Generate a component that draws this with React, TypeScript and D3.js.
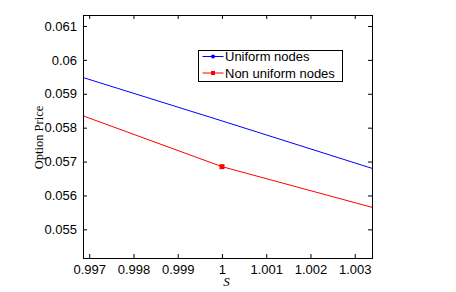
import React, { useRef, useEffect } from 'react';
import * as d3 from 'd3';

const sUniform = [0.99686, 1.0, 1.00339];
const priceUniform = [0.05948, 0.0582, 0.0568];
const sNonUniform = [0.99686, 1.0, 1.00339];
const priceNonUniform = [0.05835, 0.05685, 0.05565];
const markerS = [1.0];
const markerPrice = [0.05685];
const xTicks = [0.997, 0.998, 0.999, 1, 1.001, 1.002, 1.003];
const yTicks = [0.055, 0.056, 0.057, 0.058, 0.059, 0.06, 0.061];
const legendLabels = ['Uniform nodes', 'Non uniform nodes'];

const App = () => {
  const ref = useRef<SVGSVGElement | null>(null);
  const width = 456;
  const height = 292;
  const margin = { top: 15, right: 84, bottom: 34, left: 83 };

  useEffect(() => {
    if (!ref.current) return;
    const svg = d3.select(ref.current);
    svg.selectAll('*').remove();

    const x = d3
      .scaleLinear()
      .domain([0.99686, 1.00339])
      .range([margin.left, width - margin.right]);
    const y = d3
      .scaleLinear()
      .domain([0.054155, 0.061324])
      .range([height - margin.bottom, margin.top]);

    svg
      .append('defs')
      .append('clipPath')
      .attr('id', 'plot-clip')
      .append('rect')
      .attr('x', margin.left)
      .attr('y', margin.top)
      .attr('width', width - margin.left - margin.right)
      .attr('height', height - margin.top - margin.bottom);

    const line = d3
      .line<[number, number]>()
      .x((d) => x(d[0]))
      .y((d) => y(d[1]));

    const plot = svg.append('g').attr('clip-path', 'url(#plot-clip)');
    plot
      .append('path')
      .datum(sUniform.map((s, i) => [s, priceUniform[i]] as [number, number]))
      .attr('fill', 'none')
      .attr('stroke', '#0000ff')
      .attr('d', line);
    plot
      .append('path')
      .datum(sNonUniform.map((s, i) => [s, priceNonUniform[i]] as [number, number]))
      .attr('fill', 'none')
      .attr('stroke', '#ff0000')
      .attr('d', line);
    plot
      .selectAll('.mk')
      .data(markerS)
      .join('rect')
      .attr('x', (d) => x(d) - 2.5)
      .attr('y', (d, i) => y(markerPrice[i]) - 2.5)
      .attr('width', 5)
      .attr('height', 5)
      .attr('fill', '#ff0000');

    const font = 'Arial, "Liberation Sans", sans-serif';
    const tickLen = 4;

    // bottom / top ticks
    const xb = svg
      .append('g')
      .attr('transform', `translate(0,${height - margin.bottom})`)
      .call(d3.axisBottom(x).tickValues(xTicks).tickSize(-tickLen).tickPadding(7).tickFormat(d3.format('')));
    const xt = svg
      .append('g')
      .attr('transform', `translate(0,${margin.top})`)
      .call(d3.axisTop(x).tickValues(xTicks).tickSize(-tickLen).tickFormat(() => ''));
    const yl = svg
      .append('g')
      .attr('transform', `translate(${margin.left},0)`)
      .call(d3.axisLeft(y).tickValues(yTicks).tickSize(-tickLen).tickPadding(6).tickFormat(d3.format('')));
    const yr = svg
      .append('g')
      .attr('transform', `translate(${width - margin.right},0)`)
      .call(d3.axisRight(y).tickValues(yTicks).tickSize(-tickLen).tickFormat(() => ''));

    [xb, xt, yl, yr].forEach((g) => {
      g.select('.domain').remove();
      g.selectAll('.tick line').attr('stroke', '#000');
      g.selectAll('.tick text')
        .attr('fill', '#000')
        .style('font-family', font)
        .style('font-size', '13px');
    });

    svg
      .append('rect')
      .attr('x', margin.left + 0.5)
      .attr('y', margin.top + 0.5)
      .attr('width', width - margin.left - margin.right)
      .attr('height', height - margin.top - margin.bottom)
      .attr('fill', 'none')
      .attr('stroke', '#000');

    svg
      .append('text')
      .attr('transform', `translate(43,${(margin.top + height - margin.bottom) / 2 + 1}) rotate(-90)`)
      .attr('text-anchor', 'middle')
      .style('font-family', '"Liberation Serif", "Times New Roman", serif')
      .style('font-size', '12.5px')
      .text('Option Price');

    svg
      .append('text')
      .attr('x', x(1) + 4.5)
      .attr('y', 286)
      .attr('text-anchor', 'middle')
      .style('font-family', '"Liberation Serif", "Times New Roman", serif')
      .style('font-style', 'italic')
      .style('font-size', '13px')
      .text('S');

    // legend
    const lg = svg.append('g').attr('transform', 'translate(198.5,50.5)');
    lg.append('rect')
      .attr('width', 144)
      .attr('height', 31)
      .attr('fill', '#fff')
      .attr('stroke', '#000');
    const colors = ['#0000ff', '#ff0000'];
    legendLabels.forEach((label, i) => {
      const cy = 6 + i * 16.5;
      lg.append('line')
        .attr('x1', 4)
        .attr('x2', 25)
        .attr('y1', cy)
        .attr('y2', cy)
        .attr('stroke', colors[i]);
      if (i === 0) {
        lg.append('circle').attr('cx', 14.5).attr('cy', cy).attr('r', 2).attr('fill', colors[i]);
      } else {
        lg.append('rect').attr('x', 12.5).attr('y', cy - 2).attr('width', 4).attr('height', 4).attr('fill', colors[i]);
      }
      lg.append('text')
        .attr('x', 26.5)
        .attr('y', cy + 4.5)
        .style('font-family', font)
        .style('font-size', '13px')
        .text(label);
    });
  }, []);

  return (
    <svg ref={ref} width={width} height={height} style={{ position: 'absolute', left: 0, top: 0 }} />
  );
};

export default App;
